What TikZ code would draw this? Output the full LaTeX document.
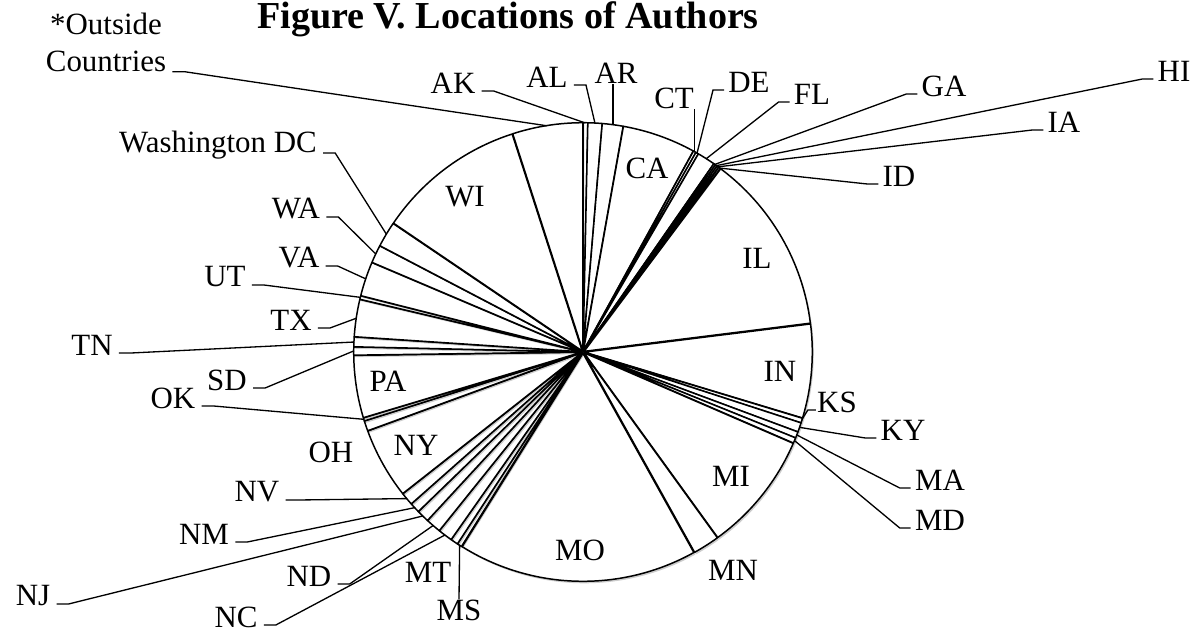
\documentclass[tikz,border=0pt]{standalone}
\usepackage{fontspec}
\setmainfont{Liberation Serif}
\newcommand\lblsize{\fontsize{17.6}{21}\selectfont}
\newcommand\ttlsize{\fontsize{21.7}{26}\selectfont}
\tikzset{
  slice/.style={draw=black, fill=white, line width=0.85pt, line join=round},
  sliceshade/.style={fill=black, opacity=0.2},
  lbl/.style={font=\lblsize, inner sep=0pt},
  leader/.style={draw=black, line width=0.75pt},
}
\begin{document}
\begin{tikzpicture}[x=0.02cm, y=-0.02cm]
    \useasboundingbox (0,0) rectangle (1196,632);

    % Title
    \node[font=\ttlsize\bfseries, inner sep=0pt] (title) at (508,19) {Figure V. Locations of Authors};

    % Pie (compass angles, clockwise from the top)
    \begin{scope}[shift={(583,352)}]
        \foreach \cA/\cB in {0/1.2, 1.2/4.8, 4.8/10.1, 10.1/28.8, 28.8/29.5, 29.5/30.2,
            30.2/34.8, 34.8/35.3, 35.3/35.8, 35.8/36.3, 36.3/36.8, 36.8/82.9,
            82.9/106.8, 106.8/108, 108/110.4, 110.4/112, 112/113.4, 113.4/144.1,
            144.1/150.9, 150.9/212, 212/213.2, 213.2/215.1, 215.1/218.8, 218.8/222.7,
            222.7/225.9, 225.9/228.5, 228.5/231.8, 231.8/249.9, 249.9/252.5, 252.5/253.3,
            253.3/269.2, 269.2/271.3, 271.3/273.8, 273.8/283.3, 283.3/284.2, 284.2/293,
            293/297.6, 297.6/304.1, 304.1/342.1, 342.1/360} {
            \pgfmathsetmacro{\tA}{\cA-90}
            \pgfmathsetmacro{\tB}{\cB-90}
            \pgfmathsetmacro{\tM}{(\tA+\tB)/2}
            \fill[sliceshade, shift={(\tM:1.3)}, shift={(1.5,2)}] (0,0) -- (\tA:228) arc[start angle=\tA, end angle=\tB, radius=228] -- cycle;
            \draw[slice, shift={(\tM:1.3)}] (0,0) -- (\tA:228) arc[start angle=\tA, end angle=\tB, radius=228] -- cycle;
        }

        % leader ends on the rim
        \coordinate (pOUT) at (261:229);
        \coordinate (pAK) at (-89.4:229);
        \coordinate (pAL) at (-87:229);
        \coordinate (pAR) at (-82.5:229);
        \coordinate (pCT) at (-60.9:229);
        \coordinate (pDE) at (-60.15:229);
        \coordinate (pFL) at (-57.5:229);
        \coordinate (pGA) at (-54.95:229);
        \coordinate (pHI) at (-54.45:229);
        \coordinate (pIA) at (-53.95:229);
        \coordinate (pID) at (-53.45:229);
        \coordinate (pKS) at (17.2:229);
        \coordinate (pKY) at (19.2:229);
        \coordinate (pMA) at (21.2:229);
        \coordinate (pMD) at (22.7:229);
        \coordinate (pMS) at (122.6:229);
        \coordinate (pNC) at (127:229);
        \coordinate (pND) at (130.8:229);
        \coordinate (pNJ) at (134.3:229);
        \coordinate (pNM) at (137.2:229);
        \coordinate (pNV) at (140.2:229);
        \coordinate (pOK) at (162.9:229);
        \coordinate (pSD) at (180.3:229);
        \coordinate (pTN) at (182.5:229);
        \coordinate (pTX) at (188.5:229);
        \coordinate (pUT) at (193.8:229);
        \coordinate (pVA) at (198.6:229);
        \coordinate (pWA) at (205.3:229);
        \coordinate (pDC) at (210.9:229);
    \end{scope}

    % Labels inside the slices
    \node[lbl] (lblWI) at (465,197) {WI};
    \node[lbl] (lblCA) at (647,168) {CA};
    \node[lbl] (lblIL) at (757,258) {IL};
    \node[lbl] (lblIN) at (780,371) {IN};
    \node[lbl] (lblMI) at (731,476) {MI};
    \node[lbl] (lblMO) at (580,550) {MO};
    \node[lbl] (lblPA) at (388,381) {PA};
    \node[lbl] (lblNY) at (416,445) {NY};

    % Labels outside, top
    \node[lbl, align=center] (lblOUT) at (106,42) {*Outside\\Countries};
    \node[lbl] (lblAK) at (453,83) {AK};
    \node[lbl] (lblAL) at (547,77) {AL};
    \node[lbl] (lblAR) at (616,73) {AR};
    \node[lbl] (lblCT) at (674,98) {CT};
    \node[lbl] (lblDE) at (749,82) {DE};
    \node[lbl] (lblFL) at (812,94) {FL};
    \node[lbl] (lblGA) at (944,86) {GA};
    \node[lbl] (lblHI) at (1174,71) {HI};
    \node[lbl] (lblIA) at (1064,122) {IA};
    \node[lbl] (lblID) at (899,176) {ID};

    % Labels outside, right and bottom
    \node[lbl] (lblKS) at (837,402) {KS};
    \node[lbl] (lblKY) at (903,430) {KY};
    \node[lbl] (lblMA) at (940,480) {MA};
    \node[lbl] (lblMD) at (940,520) {MD};
    \node[lbl] (lblMN) at (733,570) {MN};
    \node[lbl] (lblMS) at (459,610) {MS};
    \node[lbl] (lblMT) at (428,572) {MT};

    % Labels outside, left
    \node[lbl] (lblNC) at (236,617) {NC};
    \node[lbl] (lblND) at (309,576) {ND};
    \node[lbl] (lblNJ) at (33,596) {NJ};
    \node[lbl] (lblNM) at (204,534) {NM};
    \node[lbl] (lblNV) at (257,492) {NV};
    \node[lbl] (lblOH) at (331,452) {OH};
    \node[lbl] (lblOK) at (173,398) {OK};
    \node[lbl] (lblSD) at (227,380) {SD};
    \node[lbl] (lblTN) at (92,345) {TN};
    \node[lbl] (lblTX) at (291,320) {TX};
    \node[lbl] (lblUT) at (225,277) {UT};
    \node[lbl] (lblVA) at (299,258) {VA};
    \node[lbl] (lblWA) at (296,209) {WA};
    \node[lbl] (lblDC) at (218,145) {Washington DC};

    % Leaders
    \draw[leader] ([shift={(6,0)}]lblOUT.south east) -- ++(12,0) -- (pOUT);
    \draw[leader] ([shift={(6,8)}]lblAK.east) -- ++(12,0) -- (pAK);
    \draw[leader] ([shift={(6,8)}]lblAL.east) -- ++(12,0) -- (pAL);
    \draw[leader] (pAR) -- (pAR |- lblAR.south);
    \draw[leader] (pCT) -- (pCT |- lblCT.south);
    \draw[leader] (pDE) -- ([shift={(-15,8)}]lblDE.west) -- ++(11,0);
    \draw[leader] (pFL) -- ([shift={(-15,8)}]lblFL.west) -- ++(11,0);
    \draw[leader] (pGA) -- ([shift={(-15,8)}]lblGA.west) -- ++(11,0);
    \draw[leader] (pHI) -- ([shift={(-15,8)}]lblHI.west) -- ++(11,0);
    \draw[leader] (pIA) -- ([shift={(-15,8)}]lblIA.west) -- ++(11,0);
    \draw[leader] (pID) -- ([shift={(-15,8)}]lblID.west) -- ++(11,0);
    \draw[leader] (pKS) -- ([shift={(-9,8)}]lblKS.west) -- ++(8,0);
    \draw[leader] (pKY) -- ([shift={(-15,8)}]lblKY.west) -- ++(11,0);
    \draw[leader] (pMA) -- ([shift={(-15,8)}]lblMA.west) -- ++(11,0);
    \draw[leader] (pMD) -- ([shift={(-15,8)}]lblMD.west) -- ++(11,0);
    \draw[leader] (pMS) -- (lblMS.north);
    \draw[leader] ([shift={(6,8)}]lblNC.east) -- ++(12,0) -- (pNC);
    \draw[leader] ([shift={(6,8)}]lblND.east) -- ++(12,0) -- (pND);
    \draw[leader] ([shift={(6,8)}]lblNJ.east) -- ++(12,0) -- (pNJ);
    \draw[leader] ([shift={(6,8)}]lblNM.east) -- ++(12,0) -- (pNM);
    \draw[leader] ([shift={(6,8)}]lblNV.east) -- ++(12,0) -- (pNV);
    \draw[leader] ([shift={(6,8)}]lblOK.east) -- ++(12,0) -- (pOK);
    \draw[leader] ([shift={(6,8)}]lblSD.east) -- ++(12,0) -- (pSD);
    \draw[leader] ([shift={(6,8)}]lblTN.east) -- ++(12,0) -- (pTN);
    \draw[leader] ([shift={(6,8)}]lblTX.east) -- ++(12,0) -- (pTX);
    \draw[leader] ([shift={(6,8)}]lblUT.east) -- ++(12,0) -- (pUT);
    \draw[leader] ([shift={(6,8)}]lblVA.east) -- ++(12,0) -- (pVA);
    \draw[leader] ([shift={(6,8)}]lblWA.east) -- ++(12,0) -- (pWA);
    \draw[leader] ([shift={(6,8)}]lblDC.east) -- ++(12,0) -- (pDC);
\end{tikzpicture}
\end{document}
